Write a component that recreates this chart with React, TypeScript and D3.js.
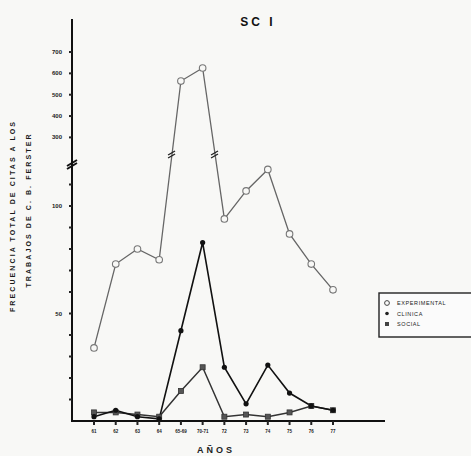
import { useEffect, useRef } from "react";
import * as d3 from "d3";

const YEARS = ["61", "62", "63", "64", "65-69", "70-71", "72", "73", "74", "75", "76", "77"];
const EXPERIMENTAL = [34, 73, 80, 75, 564, 625, 94, 107, 117, 87, 73, 61];
const CLINICA = [2, 5, 2, 1, 42, 83, 25, 8, 26, 13, 7, 5];
const SOCIAL = [4, 4, 3, 2, 14, 25, 2, 3, 2, 4, 7, 5];
const LOWER_TICKS = [10, 20, 30, 40, 50, 60, 70, 80, 90, 100, 110];
const LOWER_LABELS = [50, 100];
const UPPER_TICKS = [300, 400, 500, 600, 700];
const LEGEND = ["EXPERIMENTAL", "CLINICA", "SOCIAL"];

const W = 471;
const H = 456;
const FONT = "'Liberation Sans', Arial, sans-serif";

export default function App() {
  const svgRef = useRef<SVGSVGElement | null>(null);

  useEffect(() => {
    const svg = d3.select(svgRef.current!);
    svg.selectAll("*").remove();

    const axisX = 72;
    const axisY = 421;
    const breakY = 163;

    const x = d3.scalePoint<string>().domain(YEARS).range([94, 333]);
    // broken axis: two linear pieces
    const yLow = d3.scaleLinear().domain([0, 120]).range([axisY, breakY]);
    const yHigh = d3.scaleLinear().domain([180, 850]).range([breakY, 20]);
    const y = (v: number) => (v <= 120 ? yLow(v) : yHigh(v));

    svg.append("rect").attr("width", W).attr("height", H).attr("fill", "#f8f8f6");

    // title
    svg.append("text")
      .attr("x", 258).attr("y", 26)
      .attr("text-anchor", "middle")
      .attr("font-family", FONT).attr("font-weight", "bold")
      .attr("font-size", 12).attr("letter-spacing", "3px")
      .attr("fill", "#111")
      .text("SC I");

    // axes
    svg.append("line")
      .attr("x1", axisX).attr("x2", axisX).attr("y1", 19).attr("y2", axisY + 1)
      .attr("stroke", "#111").attr("stroke-width", 2);
    svg.append("line")
      .attr("x1", axisX - 1).attr("x2", 385).attr("y1", axisY).attr("y2", axisY)
      .attr("stroke", "#111").attr("stroke-width", 2);

    // axis break mark
    svg.append("path")
      .attr("d", `M${axisX - 5},${breakY + 3}L${axisX + 5},${breakY - 3}M${axisX - 5},${breakY + 6}L${axisX + 5},${breakY}`)
      .attr("stroke", "#111").attr("stroke-width", 2);

    const ticksG = svg.append("g").attr("fill", "#222");
    LOWER_TICKS.forEach((t) => {
      ticksG.append("rect").attr("x", axisX - 3).attr("y", yLow(t) - 1).attr("width", 3).attr("height", 2);
    });
    UPPER_TICKS.forEach((t) => {
      ticksG.append("rect").attr("x", axisX - 3).attr("y", yHigh(t) - 1).attr("width", 3).attr("height", 2);
    });

    const lab = svg.append("g")
      .attr("font-family", FONT).attr("font-weight", "bold")
      .attr("font-size", 6).attr("fill", "#222").attr("text-anchor", "end");
    LOWER_LABELS.forEach((t) => {
      lab.append("text").attr("x", axisX - 10).attr("y", yLow(t) + 2).text(t);
    });
    UPPER_TICKS.forEach((t) => {
      lab.append("text").attr("x", axisX - 10).attr("y", yHigh(t) + 2).text(t);
    });

    // x ticks + labels
    YEARS.forEach((c) => {
      svg.append("rect").attr("x", x(c)! - 1).attr("y", axisY).attr("width", 2).attr("height", 4).attr("fill", "#222");
      svg.append("text")
        .attr("x", x(c)!).attr("y", axisY + 12)
        .attr("text-anchor", "middle")
        .attr("font-family", FONT).attr("font-weight", "bold")
        .attr("font-size", 4.5).attr("fill", "#222")
        .text(c);
    });

    svg.append("text")
      .attr("x", 216).attr("y", 453)
      .attr("text-anchor", "middle")
      .attr("font-family", FONT).attr("font-weight", "bold")
      .attr("font-size", 9).attr("letter-spacing", "3px")
      .attr("fill", "#222")
      .text("AÑOS");

    // y title (two lines)
    const yt = svg.append("g")
      .attr("font-family", FONT).attr("font-weight", "bold")
      .attr("font-size", 7).attr("letter-spacing", "2.1px")
      .attr("fill", "#1a1a1a").attr("text-anchor", "middle");
    yt.append("text").attr("transform", "translate(15,216) rotate(-90)").text("FRECUENCIA TOTAL DE CITAS A LOS");
    yt.append("text").attr("transform", "translate(31,210) rotate(-90)").text("TRABAJOS DE C. B. FERSTER");

    const line = d3.line<number>()
      .x((_, i) => x(YEARS[i])!)
      .y((v) => y(v));

    const series = [
      { data: EXPERIMENTAL, color: "#666", width: 1.3 },
      { data: SOCIAL, color: "#333", width: 1.5 },
      { data: CLINICA, color: "#111", width: 1.6 },
    ];
    series.forEach((s) => {
      svg.append("path")
        .attr("d", line(s.data)!)
        .attr("fill", "none")
        .attr("stroke", s.color)
        .attr("stroke-width", s.width);
    });

    // break marks on experimental line crossing the gap
    [[3, 4], [5, 6]].forEach(([a, b]) => {
      const x0 = x(YEARS[a])!, x1 = x(YEARS[b])!;
      const y0 = y(EXPERIMENTAL[a]), y1 = y(EXPERIMENTAL[b]);
      const yb = 154;
      const t = (yb - y0) / (y1 - y0);
      const xb = x0 + (x1 - x0) * t;
      svg.append("path")
        .attr("d", `M${xb - 4},${yb + 1}L${xb + 3},${yb - 3}M${xb - 4},${yb + 4}L${xb + 3},${yb}`)
        .attr("stroke", "#222").attr("stroke-width", 1.4);
    });

    // markers
    EXPERIMENTAL.forEach((v, i) => {
      svg.append("circle")
        .attr("cx", x(YEARS[i])!).attr("cy", y(v)).attr("r", 3.3)
        .attr("fill", "#f8f8f6").attr("stroke", "#777").attr("stroke-width", 1.1);
    });
    SOCIAL.forEach((v, i) => {
      svg.append("rect")
        .attr("x", x(YEARS[i])! - 2.5).attr("y", y(v) - 2.5)
        .attr("width", 5).attr("height", 5)
        .attr("fill", "#555").attr("stroke", "#333").attr("stroke-width", 0.8);
    });
    CLINICA.forEach((v, i) => {
      svg.append("circle")
        .attr("cx", x(YEARS[i])!).attr("cy", y(v)).attr("r", 2.6)
        .attr("fill", "#111");
    });

    // legend
    const lg = svg.append("g");
    lg.append("rect")
      .attr("x", 379).attr("y", 293).attr("width", 100).attr("height", 44)
      .attr("fill", "#fbfbfb").attr("stroke", "#222").attr("stroke-width", 1.4);
    LEGEND.forEach((name, i) => {
      const ly = 305 + i * 10.5;
      if (i === 0) {
        lg.append("circle").attr("cx", 387).attr("cy", ly - 2).attr("r", 2.4)
          .attr("fill", "none").attr("stroke", "#444").attr("stroke-width", 1);
      } else if (i === 1) {
        lg.append("circle").attr("cx", 387).attr("cy", ly - 2).attr("r", 1.8).attr("fill", "#222");
      } else {
        lg.append("rect").attr("x", 385).attr("y", ly - 4).attr("width", 4).attr("height", 4).attr("fill", "#444");
      }
      lg.append("text")
        .attr("x", 397).attr("y", ly)
        .attr("font-family", FONT).attr("font-size", 5.5)
        .attr("letter-spacing", "0.6px").attr("fill", "#222")
        .text(name);
    });
  }, []);

  return (
    <svg
      ref={svgRef}
      width={W}
      height={H}
      style={{ position: "absolute", left: 0, top: 0, display: "block" }}
    />
  );
}
